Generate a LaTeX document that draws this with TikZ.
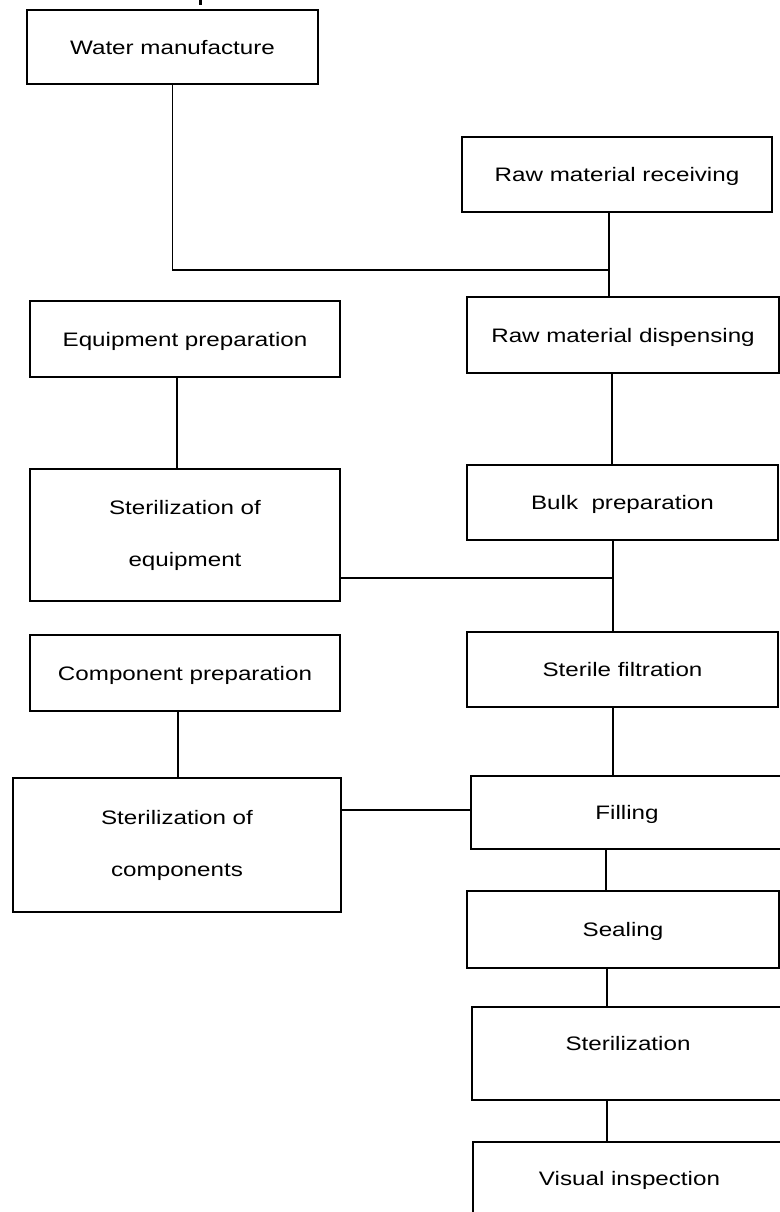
\documentclass[tikz,border=0pt]{standalone}
\usepackage{fontspec}
\setmainfont{Liberation Sans}[FakeStretch=1.24]
\begin{document}
\begin{tikzpicture}[x=1bp,y=-1bp,
  frame/.style={draw=black, line width=1.7bp, rectangle, inner sep=0pt,
    font=\fontsize{19.5bp}{52bp}\selectfont, align=center},
  box/.style={frame, text height=14bp, text depth=0pt},
  lbl/.style={inner sep=0pt, anchor=base, font=\fontsize{19.5bp}{52bp}\selectfont},
  conn/.style={draw=black, line width=1.7bp}]
\clip (0,0) rectangle (780,1212);
\fill[white] (0,0) rectangle (780,1212);
% right column
\node[box, minimum width=291bp, minimum height=74bp] (water) at (172.5,47) {Water manufacture};
\node[box, minimum width=310bp, minimum height=75bp] (recv) at (617,174.5) {Raw material receiving};
\node[box, minimum width=312bp, minimum height=76bp] (disp) at (623,335) {Raw material dispensing};
\node[box, minimum width=311bp, minimum height=75bp] (bulk) at (622.5,502.5) {Bulk\ \ preparation};
\node[box, minimum width=311bp, minimum height=75bp] (filt) at (622.5,669.5) {Sterile filtration};
\node[box, minimum width=312bp, minimum height=73bp] (fill) at (627,812.5) {Filling};
\node[box, minimum width=312bp, minimum height=77bp] (seal) at (623,929.5) {Sealing};
\node[box, minimum width=312bp, minimum height=93bp] (ster) at (628,1053.5) {};
\node[lbl] (sterT) at (628,1050) {Sterilization};
\node[box, minimum width=313bp, minimum height=93bp] (vis) at (629.5,1188.5) {};
\node[lbl] (visT) at (629.5,1185) {Visual inspection};
% left column
\node[box, minimum width=310bp, minimum height=76bp] (eqp) at (185,339) {Equipment preparation};
\node[frame, minimum width=310bp, minimum height=132bp] (steq) at (185,535) {Sterilization of\\equipment};
\node[box, minimum width=310bp, minimum height=76bp] (cop) at (185,673) {Component preparation};
\node[frame, minimum width=328bp, minimum height=134bp] (stco) at (177,845) {Sterilization of\\components};
% junctions
\coordinate (j1) at (609,270);
\coordinate (j2) at (613,578);
% connectors
\draw[conn] (water.south) |- (j1);
\draw[conn] ([xshift=-8bp]recv.south) -- ([xshift=-8bp]recv.south |- disp.north);
\draw[conn] ([xshift=-11bp]disp.south) -- ([xshift=-11bp]disp.south |- bulk.north);
\draw[conn] ([xshift=-9.5bp]bulk.south) -- ([xshift=-9.5bp]bulk.south |- filt.north);
\draw[conn] (j2) -- (j2 -| steq.east);
\draw[conn] ([xshift=-9.5bp]filt.south) -- ([xshift=-9.5bp]filt.south |- fill.north);
\draw[conn] ([yshift=2.5bp]fill.west) -- ([yshift=2.5bp]fill.west -| stco.east);
\draw[conn] ([xshift=-21bp]fill.south) -- ([xshift=-21bp]fill.south |- seal.north);
\draw[conn] ([xshift=-16bp]seal.south) -- ([xshift=-16bp]seal.south |- ster.north);
\draw[conn] ([xshift=-21bp]ster.south) -- ([xshift=-21bp]ster.south |- vis.north);
\draw[conn] ([xshift=-8bp]eqp.south) -- ([xshift=-8bp]eqp.south |- steq.north);
\draw[conn] ([xshift=-7bp]cop.south) -- ([xshift=-7bp]cop.south |- stco.north);
% small mark at top
\draw[line width=3bp] (200,0) -- (200,5);
\end{tikzpicture}
\end{document}
